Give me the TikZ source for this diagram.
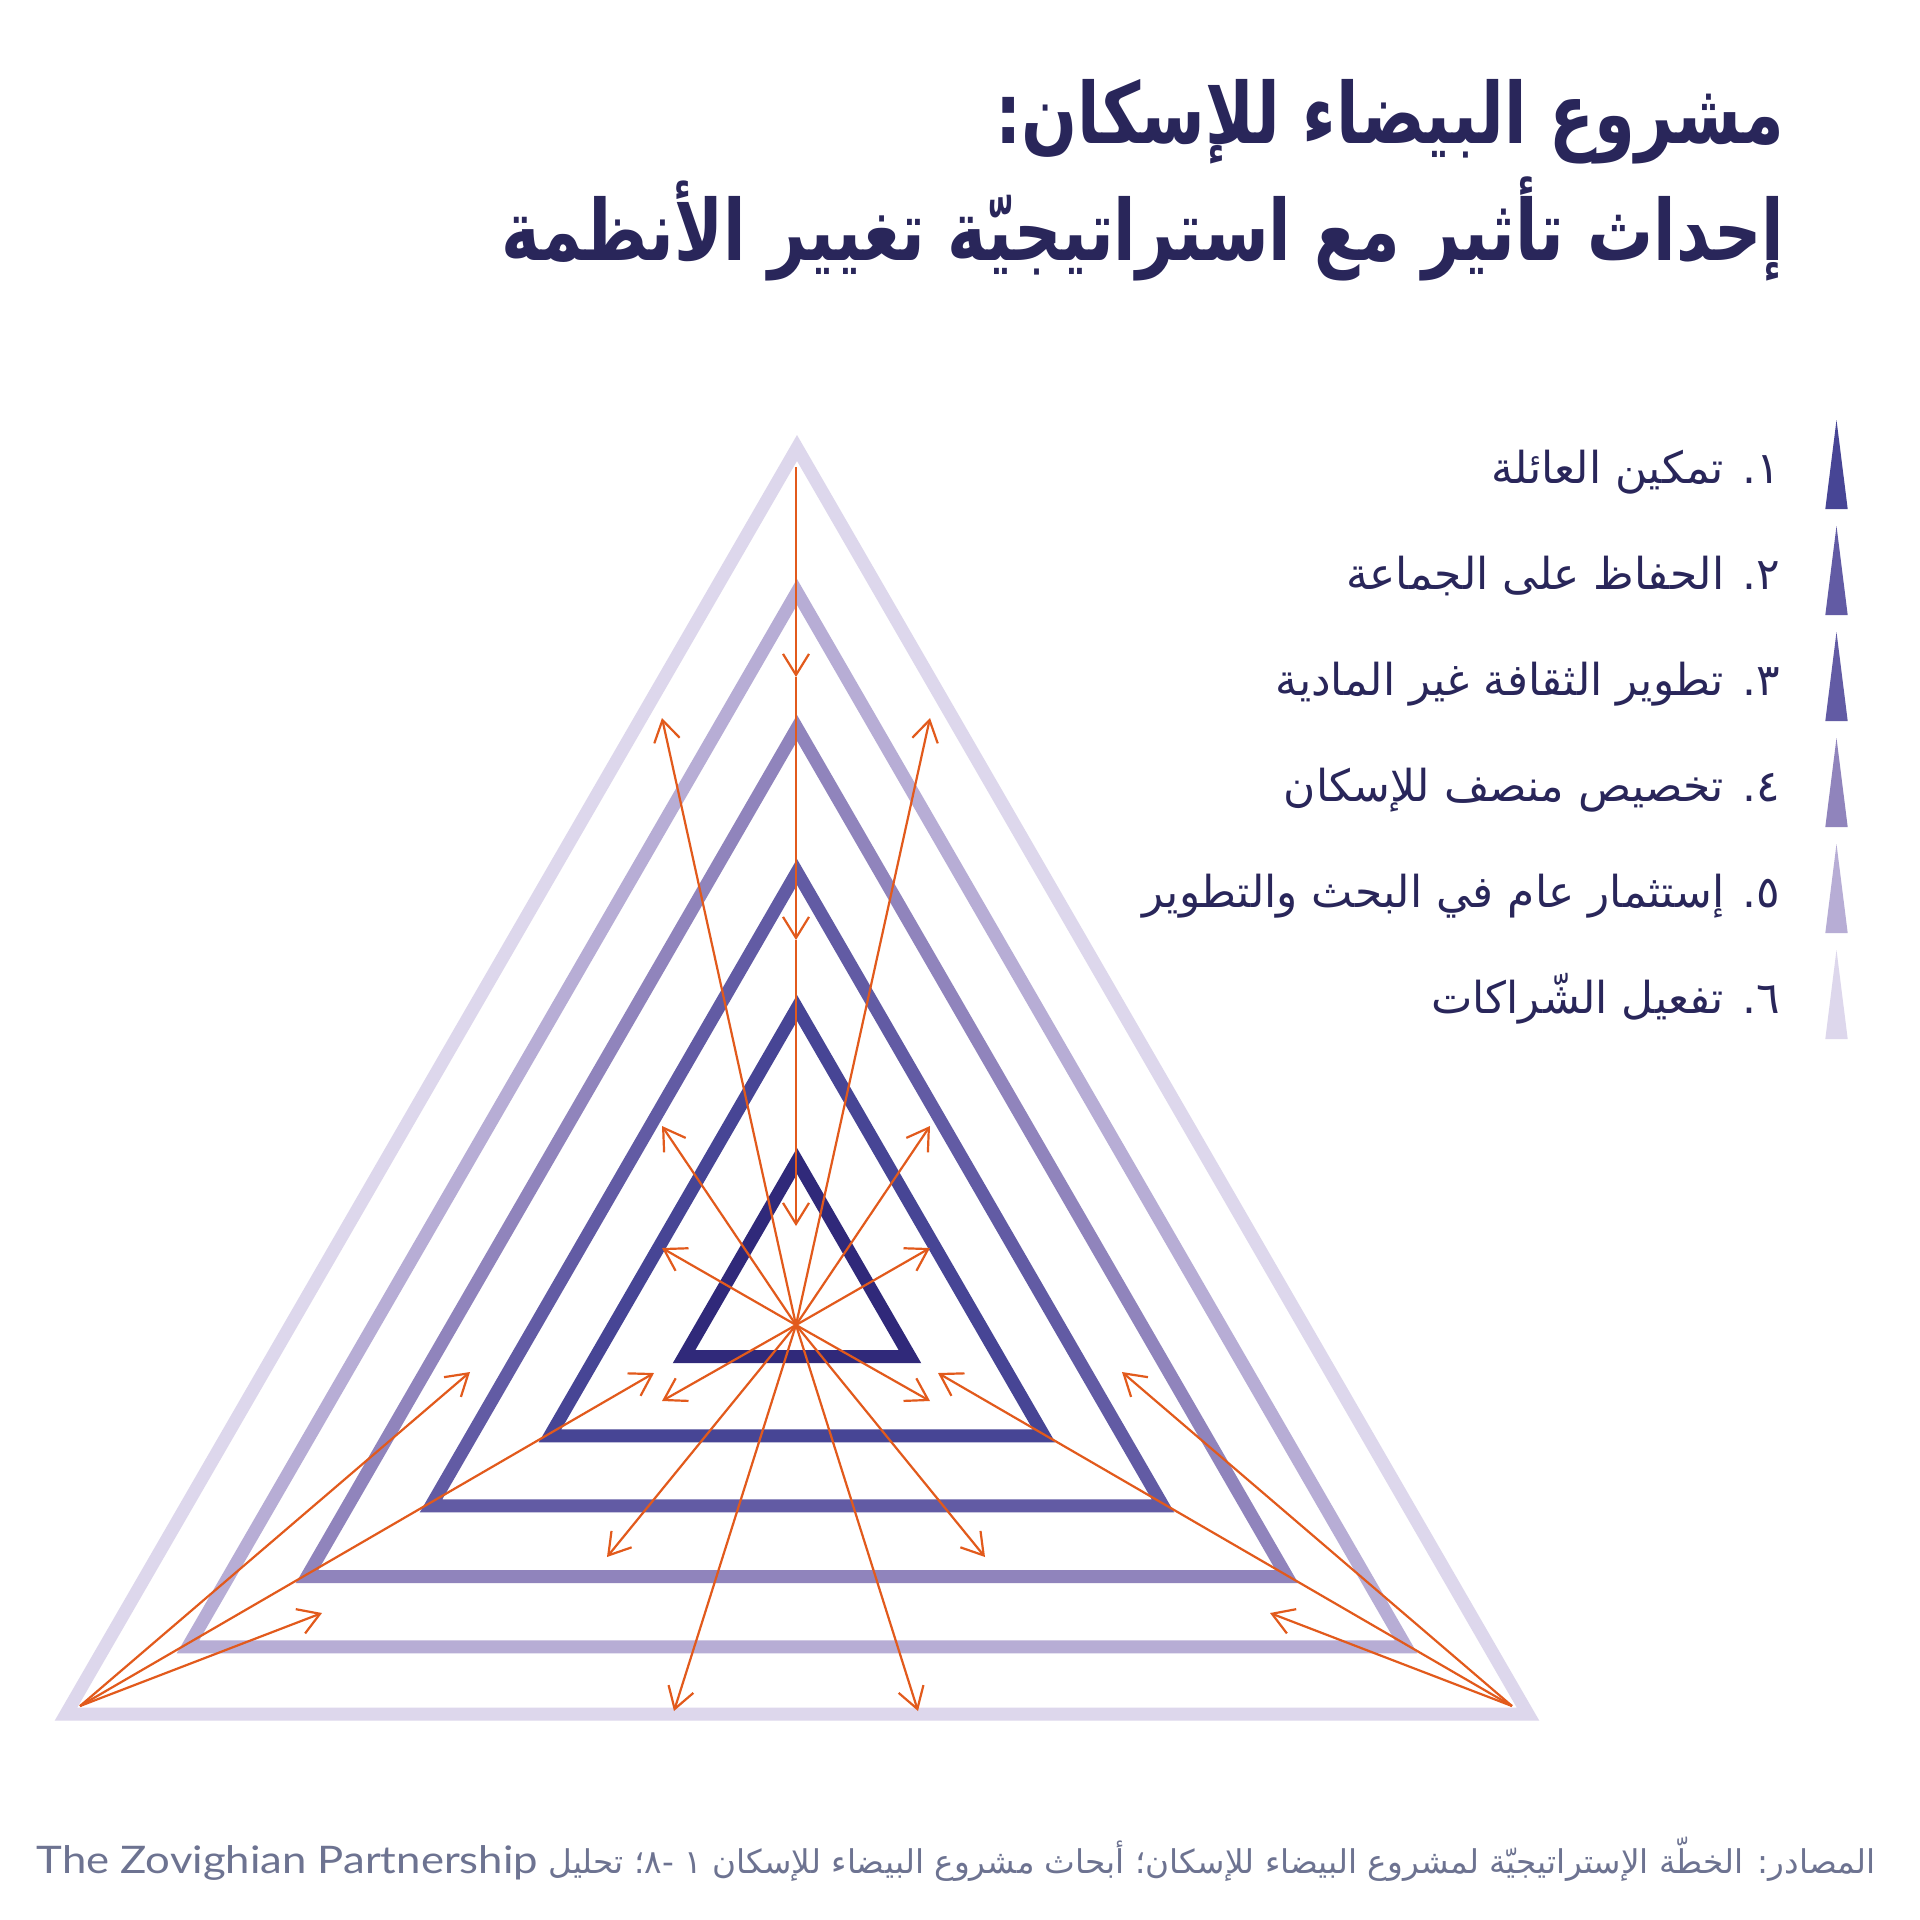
\documentclass[tikz,border=0pt]{standalone}
\usepackage{fontspec}
\usetikzlibrary{arrows.meta}
\TeXXeTstate=1
\newfontfamily\arabicfont[Script=Arabic]{DejaVu Sans}
\newfontfamily\titlefont[Script=Arabic,FakeStretch=0.78]{DejaVu Sans Bold}
\newfontfamily\latinfont[FakeStretch=1.15]{Lato}
\definecolor{ink}{HTML}{29265A}
\definecolor{note}{HTML}{6D7391}
\definecolor{flow}{HTML}{E25A1C}
\definecolor{tone1}{HTML}{30297A}
\definecolor{tone2}{HTML}{474595}
\definecolor{tone3}{HTML}{625BA4}
\definecolor{tone4}{HTML}{9084BC}
\definecolor{tone5}{HTML}{B7ADD5}
\definecolor{tone6}{HTML}{DDD7EC}

\begin{document}
\begin{tikzpicture}[
        x=0.1mm, y=-0.1mm,
        every node/.style={inner sep=0pt, text=ink},
        ring/.style={draw, line width=1.3mm, line join=miter},
        flowarrow/.style={draw=flow, line width=0.22mm, -{Straight Barb[length=2.1mm,width=2.6mm]}},
        heading/.style={anchor=base east, font=\titlefont\fontsize{24}{28}\selectfont},
        item/.style={anchor=base east, font=\arabicfont\fontsize{12.5}{15}\selectfont}
    ]
 \fill[white] (0,0) rectangle (1920,1920);
 \useasboundingbox (0,0) rectangle (1920,1920);
 % nested triangles, darkest inside
 \foreach \ap/\hw/\col in {448/731/tone6, 592/609/tone5, 728/490/tone4, 872/366/tone3, 1008/247/tone2, 1161/113/tone1}
     \draw[ring, \col] (797,\ap) -- (797-\hw,\ap+1.732*\hw) -- (797+\hw,\ap+1.732*\hw) -- cycle;
 \coordinate (hub) at (796,1325);
 \coordinate (top) at (796,467);
 \coordinate (v1) at (796,677);
 \coordinate (v2) at (796,940);
 \coordinate (v3) at (796,1226);
 \coordinate (cl) at (80,1706);
 \coordinate (cr) at (1512,1706);
 \draw[flowarrow] (top) -- (v1);
 \draw[flowarrow] (v1) -- (v2);
 \draw[flowarrow] (v2) -- (v3);
 % spokes from the centre
 \foreach \tx/\ty [count=\i] in {662/718, 662/1126, 662/1248, 662/1401, 607/1557, 674/1711} {
     \coordinate (sl\i) at (\tx,\ty);
     \coordinate (sr\i) at (1592-\tx,\ty);
     \draw[flowarrow] (hub) -- (sl\i);
     \draw[flowarrow] (hub) -- (sr\i);
 }
 % spokes from the corners
 \foreach \tx/\ty [count=\i] in {470/1372, 654/1373, 322/1613} {
     \coordinate (kl\i) at (\tx,\ty);
     \coordinate (kr\i) at (1592-\tx,\ty);
     \draw[flowarrow] (cl) -- (kl\i);
     \draw[flowarrow] (cr) -- (kr\i);
 }
 % title
 \node[heading] (title1) at (1785,143) {\beginR مشروع البيضاء للإسكان:\endR};
 \node[heading] (title2) at (1785,260) {\beginR إحداث تأثير مع استراتيجيّة تغيير الأنظمة\endR};
 % legend
 \foreach \txt/\col [count=\i] in {١. تمكين العائلة/tone2, ٢. الحفاظ على الجماعة/tone3, ٣. تطوير الثقافة غير المادية/tone3, ٤. تخصيص منصف للإسكان/tone4, ٥. إستثمار عام في البحث والتطوير/tone5, ٦. تفعيل الشّراكات/tone6} {
     \node[item] (item\i) at (1781,377+106*\i) {\beginR\txt\endR};
     \fill[\col] (1836.5,314+106*\i) -- (1847.7,403+106*\i) -- (1825.3,403+106*\i) -- cycle;
 }
 % source line
 \node[anchor=base east, text=note, font=\arabicfont\fontsize{9.3}{12}\selectfont] (source) at (1876,1873) {\beginR المصادر: الخطّة الإستراتيجيّة لمشروع البيضاء للإسكان؛ أبحاث مشروع البيضاء للإسكان ١ -٨؛ تحليل \beginL{\latinfont\fontsize{10.8}{12}\selectfont The Zovighian Partnership}\endL\endR};
\end{tikzpicture}
\end{document}
